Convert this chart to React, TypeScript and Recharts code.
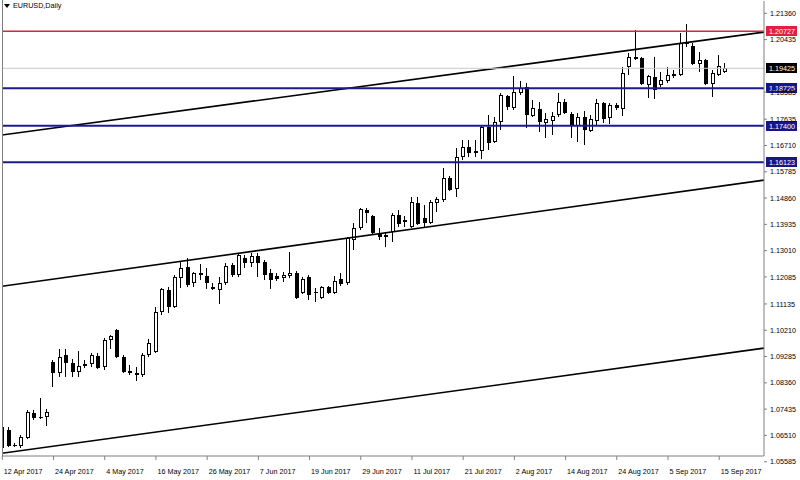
import React from 'react';
import { ComposedChart, Bar, XAxis, YAxis, ReferenceLine } from 'recharts';

// ---- Data (EURUSD daily) ----
const opens = [
  1.0606, 1.0669, 1.0618, 1.0613, 1.0641, 1.0729, 1.0717, 1.0716, 1.0909, 1.0870,
  1.0933, 1.0905, 1.0874, 1.0900, 1.0902, 1.0930, 1.0891, 1.0986, 1.1021, 1.0926,
  1.0877, 1.0870, 1.0863, 1.0933, 1.0944, 1.1085, 1.1162, 1.1102, 1.1204, 1.1243,
  1.1187, 1.1222, 1.1211, 1.1173, 1.1162, 1.1187, 1.1250, 1.1215, 1.1275, 1.1257,
  1.1282, 1.1261, 1.1222, 1.1211, 1.1204, 1.1211, 1.1222, 1.1152, 1.1208, 1.1157,
  1.1134, 1.1173, 1.1152, 1.1201, 1.1187, 1.1338, 1.1380, 1.1444, 1.1423, 1.1363,
  1.1349, 1.1366, 1.1426, 1.1402, 1.1384, 1.1468, 1.1416, 1.1398, 1.1468, 1.1479,
  1.1556, 1.1518, 1.1630, 1.1666, 1.1644, 1.1651, 1.1736, 1.1683, 1.1754, 1.1845,
  1.1803, 1.1856, 1.1877, 1.1775, 1.1799, 1.1750, 1.1757, 1.1778, 1.1824, 1.1782,
  1.1739, 1.1771, 1.1722, 1.1757, 1.1820, 1.1768, 1.1813, 1.1799, 1.1947, 1.1982,
  1.1979, 1.1884, 1.1912, 1.1884, 1.1898, 1.1915, 1.1919, 1.2028, 1.2021, 1.1958,
  1.1972, 1.1887, 1.1919, 1.1928,
];
const highs = [
  1.0687, 1.0680, 1.0624, 1.0652, 1.0740, 1.0740, 1.0782, 1.0743, 1.0916, 1.0955,
  1.0955, 1.0919, 1.0948, 1.0916, 1.0940, 1.0940, 1.0993, 1.1004, 1.1025, 1.0933,
  1.0898, 1.0891, 1.0940, 1.0990, 1.1102, 1.1169, 1.1173, 1.1215, 1.1261, 1.1275,
  1.1226, 1.1254, 1.1240, 1.1187, 1.1208, 1.1257, 1.1257, 1.1292, 1.1285, 1.1292,
  1.1292, 1.1268, 1.1236, 1.1222, 1.1226, 1.1296, 1.1229, 1.1208, 1.1215, 1.1169,
  1.1176, 1.1176, 1.1211, 1.1222, 1.1349, 1.1398, 1.1451, 1.1451, 1.1426, 1.1380,
  1.1366, 1.1433, 1.1444, 1.1423, 1.1490, 1.1490, 1.1461, 1.1479, 1.1490, 1.1592,
  1.1563, 1.1662, 1.1690, 1.1690, 1.1690, 1.1743, 1.1778, 1.1771, 1.1856, 1.1849,
  1.1915, 1.1898, 1.1891, 1.1831, 1.1824, 1.1785, 1.1789, 1.1856, 1.1835, 1.1789,
  1.1785, 1.1792, 1.1778, 1.1835, 1.1824, 1.1820, 1.1820, 1.1947, 1.1996, 1.2077,
  1.1982, 1.1919, 1.1982, 1.1930, 1.1947, 1.1937, 1.2067, 1.2099, 1.2032, 1.2000,
  1.1975, 1.1937, 1.1989, 1.1961,
];
const lows = [
  1.0599, 1.0610, 1.0610, 1.0606, 1.0638, 1.0705, 1.0710, 1.0684, 1.0821, 1.0856,
  1.0856, 1.0856, 1.0856, 1.0888, 1.0891, 1.0884, 1.0881, 1.0955, 1.0923, 1.0870,
  1.0863, 1.0842, 1.0856, 1.0926, 1.0940, 1.1074, 1.1081, 1.1099, 1.1169, 1.1173,
  1.1173, 1.1197, 1.1166, 1.1162, 1.1113, 1.1180, 1.1208, 1.1208, 1.1240, 1.1243,
  1.1208, 1.1197, 1.1166, 1.1194, 1.1190, 1.1204, 1.1131, 1.1148, 1.1127, 1.1120,
  1.1131, 1.1148, 1.1148, 1.1176, 1.1180, 1.1303, 1.1373, 1.1398, 1.1361, 1.1338,
  1.1314, 1.1331, 1.1384, 1.1384, 1.1382, 1.1391, 1.1384, 1.1395, 1.1437, 1.1472,
  1.1511, 1.1490, 1.1620, 1.1630, 1.1630, 1.1623, 1.1655, 1.1680, 1.1725, 1.1796,
  1.1796, 1.1849, 1.1732, 1.1771, 1.1718, 1.1697, 1.1708, 1.1771, 1.1782, 1.1697,
  1.1683, 1.1673, 1.1718, 1.1743, 1.1750, 1.1747, 1.1796, 1.1775, 1.1919, 1.1972,
  1.1884, 1.1838, 1.1835, 1.1877, 1.1891, 1.1908, 1.1915, 1.2018, 1.1954, 1.1930,
  1.1884, 1.1842, 1.1915, 1.1926,
];
const closes = [
  1.0680, 1.0613, 1.0615, 1.0645, 1.0733, 1.0712, 1.0713, 1.0734, 1.0870, 1.0926,
  1.0905, 1.0874, 1.0895, 1.0903, 1.0933, 1.0888, 1.0986, 1.1000, 1.0926, 1.0874,
  1.0870, 1.0863, 1.0933, 1.0976, 1.1085, 1.1166, 1.1102, 1.1208, 1.1240, 1.1180,
  1.1222, 1.1215, 1.1187, 1.1166, 1.1187, 1.1247, 1.1215, 1.1285, 1.1257, 1.1282,
  1.1257, 1.1215, 1.1197, 1.1201, 1.1215, 1.1222, 1.1134, 1.1201, 1.1145, 1.1153,
  1.1173, 1.1152, 1.1194, 1.1183, 1.1345, 1.1380, 1.1447, 1.1433, 1.1363, 1.1349,
  1.1356, 1.1426, 1.1395, 1.1409, 1.1472, 1.1395, 1.1398, 1.1472, 1.1483, 1.1556,
  1.1514, 1.1630, 1.1666, 1.1644, 1.1651, 1.1736, 1.1680, 1.1754, 1.1849, 1.1806,
  1.1859, 1.1873, 1.1778, 1.1803, 1.1754, 1.1764, 1.1775, 1.1824, 1.1785, 1.1739,
  1.1771, 1.1725, 1.1764, 1.1820, 1.1764, 1.1813, 1.1803, 1.1926, 1.1982, 1.1977,
  1.1887, 1.1915, 1.1866, 1.1901, 1.1919, 1.1923, 1.2032, 1.2035, 1.1958, 1.1972,
  1.1887, 1.1926, 1.1951, 1.19425,
];

const xTickLabels = [
  '12 Apr 2017', '24 Apr 2017', '4 May 2017', '16 May 2017', '26 May 2017',
  '7 Jun 2017', '19 Jun 2017', '29 Jun 2017', '11 Jul 2017', '21 Jul 2017',
  '2 Aug 2017', '14 Aug 2017', '24 Aug 2017', '5 Sep 2017', '15 Sep 2017',
];
const barsPerXTick = 8;

// visible price-scale labels (1.19510 is fully hidden behind the bid tag in the reference)
const yTickValues = [
  1.2136, 1.20435, 1.18585, 1.17635, 1.1671, 1.15785, 1.1486, 1.13935,
  1.1301, 1.12085, 1.11135, 1.1021, 1.09285, 1.0836, 1.07435, 1.0651, 1.05585,
];

// horizontal levels
const levelPrices = [1.20727, 1.19425, 1.18725, 1.174, 1.16123];
const levelKinds = ['resistance', 'bid', 'support', 'support', 'support'];

// channel trend lines: price at the left edge and right edge of the chart
const trendLeftPrices = [1.1708, 1.1176, 1.0588];
const trendRightPrices = [1.2070, 1.1549, 1.0958];

const symbolTitle = 'EURUSD,Daily';

// ---- Layout / style ----
const W = 800;
const H = 480;
const X_DOMAIN: [number, number] = [-0.05, 119.0];
const Y_DOMAIN: [number, number] = [1.05786, 1.21793];
const FONT = '"Liberation Sans", Arial, sans-serif';
const FS = 7.2;
const AXIS_GRAY = '#808080';
const kindStyle: Record<string, { line: string; bg: string; width: number }> = {
  resistance: { line: '#e0203f', bg: '#e0203f', width: 1.5 },
  bid: { line: '#c8c8c8', bg: '#000000', width: 1 },
  support: { line: '#1b1b8f', bg: '#16168a', width: 2 },
};

const data = opens.map((o, i) => ({
  i,
  o,
  h: highs[i],
  l: lows[i],
  c: closes[i],
  hl: [lows[i], highs[i]],
}));

const Candle = (props: any) => {
  const { x, y, width, height, payload } = props;
  if (x == null || y == null) return null;
  const top = Math.min(y, y + height);
  const hgt = Math.abs(height);
  const { o, h: hi, l: lo, c } = payload;
  const range = hi - lo || 1e-9;
  const py = (p: number) => top + ((hi - p) / range) * hgt;
  const n = Math.round(x + width / 2);
  const yo = py(o);
  const yc = py(c);
  const bt = Math.round(Math.min(yo, yc));
  const bb = Math.round(Math.max(yo, yc));
  const bh = Math.max(bb - bt, 1);
  const bull = c > o;
  const wt = Math.round(top);
  const wb = Math.round(top + hgt);
  return (
    <g>
      <rect x={n - 1} y={wt} width={1} height={Math.max(wb - wt, 1)} fill="#000" />
      <rect x={n - 2} y={bt} width={4} height={bull ? Math.max(bh, 2) : bh} fill="#000" />
      {bull && bh > 2 ? (
        <rect x={n - 1} y={bt + 1} width={2} height={bh - 2} fill="#fff" />
      ) : null}
    </g>
  );
};

const XTick = (props: any) => {
  const { x, y, payload } = props;
  const idx = Math.round(payload.value / barsPerXTick);
  return (
    <g>
      <line x1={x} x2={x} y1={y} y2={y + 4} stroke={AXIS_GRAY} strokeWidth={1} />
      <text x={x + 1.5} y={y + 17.5} fontSize={FS} fontFamily={FONT} fill="#000">
        {xTickLabels[idx]}
      </text>
    </g>
  );
};

const YTick = (props: any) => {
  const { x, y, payload } = props;
  return (
    <g>
      <line x1={x} x2={x + 3} y1={y} y2={y} stroke={AXIS_GRAY} strokeWidth={1} />
      <text x={x + 6} y={y + 2.6} fontSize={FS} fontFamily={FONT} fill="#000">
        {Number(payload.value).toFixed(5)}
      </text>
    </g>
  );
};

const PriceTag = (props: any) => {
  const { viewBox, text, bg } = props;
  if (!viewBox) return null;
  const left = viewBox.x + viewBox.width + 2;
  const yy = Math.round(viewBox.y);
  return (
    <g>
      <rect x={left} y={yy - 5} width={31} height={10} fill={bg} />
      <text x={left + 3} y={yy + 2.6} fontSize={FS} fontFamily={FONT} fill="#fff">
        {text}
      </text>
    </g>
  );
};

export default function App() {
  return (
    <div style={{ position: 'absolute', left: 0, top: 0, width: W, height: H, background: '#fff' }}>
      <ComposedChart
        width={W}
        height={H}
        data={data}
        margin={{ top: 1, right: 0, bottom: 0, left: 2 }}
      >
        <XAxis
          dataKey="i"
          type="number"
          domain={X_DOMAIN}
          allowDataOverflow
          ticks={xTickLabels.map((_, k) => k * barsPerXTick)}
          interval={0}
          height={24}
          tickSize={0}
          tickMargin={0}
          tickLine={false}
          axisLine={{ stroke: AXIS_GRAY }}
          tick={<XTick />}
        />
        <YAxis
          orientation="right"
          type="number"
          domain={Y_DOMAIN}
          allowDataOverflow
          ticks={yTickValues}
          interval={0}
          width={36}
          tickSize={0}
          tickMargin={0}
          tickLine={false}
          axisLine={{ stroke: AXIS_GRAY }}
          tick={<YTick />}
        />
        <Bar dataKey="hl" barSize={4} isAnimationActive={false} shape={<Candle />} />
        {trendLeftPrices.map((p, k) => (
          <ReferenceLine
            key={'t' + k}
            segment={[
              { x: X_DOMAIN[0], y: p },
              { x: X_DOMAIN[1], y: trendRightPrices[k] },
            ]}
            stroke="#000"
            strokeWidth={1.6}
            ifOverflow="hidden"
          />
        ))}
        {levelPrices.map((p, k) => {
          const st = kindStyle[levelKinds[k]];
          return (
            <ReferenceLine
              key={'l' + k}
              y={p}
              stroke={st.line}
              strokeWidth={st.width}
              label={<PriceTag text={p.toFixed(5)} bg={st.bg} />}
            />
          );
        })}
      </ComposedChart>
      <div
        style={{
          position: 'absolute',
          left: 2,
          top: 0,
          width: 1,
          height: 456,
          background: AXIS_GRAY,
        }}
      />
      <div
        style={{
          position: 'absolute',
          left: 4,
          top: 1,
          display: 'flex',
          alignItems: 'center',
          fontFamily: FONT,
          fontSize: FS,
          color: '#000',
          lineHeight: '9px',
        }}
      >
        <svg width={6} height={6} style={{ marginRight: 3 }}>
          <polygon points="0,1 6,1 3,5" fill="#000" />
        </svg>
        <span>{symbolTitle}</span>
      </div>
    </div>
  );
}
